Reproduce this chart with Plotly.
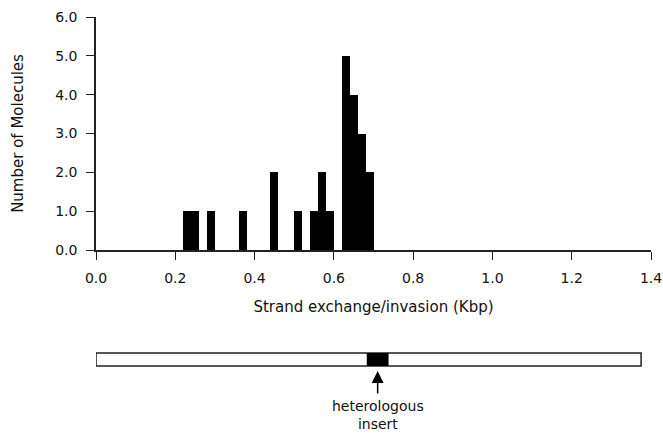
import plotly.graph_objects as go

# Histogram bins (Kbp, left edges of 0.02-Kbp bins) and counts
bin_left = [0.22, 0.24, 0.28, 0.36, 0.44, 0.50, 0.54, 0.56, 0.58, 0.62, 0.64, 0.66, 0.68]
counts = [1, 1, 1, 1, 2, 1, 1, 2, 1, 5, 4, 3, 2]
bin_width = 0.02

x_tick_vals = [0.0, 0.2, 0.4, 0.6, 0.8, 1.0, 1.2, 1.4]
x_tick_text = ["0.0", "0.2", "0.4", "0.6", "0.8", "1.0", "1.2", "1.4"]
y_tick_vals = [0, 1, 2, 3, 4, 5, 6]
y_tick_text = ["0.0", "1.0", "2.0", "3.0", "4.0", "5.0", "6.0"]

# Construct map drawn to the x-axis scale (Kbp)
construct_span = [0.0, 1.375]
insert_span = [0.683, 0.738]
insert_label = "heterologous<br>insert"

FONT = "DejaVu Sans"

centers = [b + bin_width / 2 for b in bin_left]

fig = go.Figure()
fig.add_trace(go.Bar(
    x=centers, y=counts, width=bin_width,
    marker=dict(color="black", line=dict(width=0)),
    showlegend=False, hoverinfo="x+y",
))

W, H = 663, 434
ml, mr, mt, mb = 96, 12, 17, 184
ph = H - mt - mb


def py(pix):
    # pixel row -> paper y
    return (H - mb - pix) / ph


fig.update_layout(
    width=W, height=H,
    margin=dict(l=ml, r=mr, t=mt, b=mb, autoexpand=False),
    paper_bgcolor="white", plot_bgcolor="white",
    bargap=0,
    font=dict(family=FONT, color="#111111"),
    xaxis=dict(
        range=[0, 1.4], tickmode="array", tickvals=x_tick_vals, ticktext=x_tick_text,
        ticks="outside", ticklen=8, tickwidth=1.2, tickcolor="#222",
        showline=True, linecolor="#222", linewidth=1.5, showgrid=False, zeroline=False,
        tickfont=dict(size=14), ticklabelstandoff=6, automargin=False,
        title=dict(text="Strand exchange/invasion (Kbp)", font=dict(size=15), standoff=17),
        fixedrange=True,
    ),
    yaxis=dict(
        range=[0, 6], tickmode="array", tickvals=y_tick_vals, ticktext=y_tick_text,
        ticks="outside", ticklen=8, tickwidth=1.2, tickcolor="#222",
        showline=True, linecolor="#222", linewidth=1.5, showgrid=False, zeroline=False,
        tickfont=dict(size=14), ticklabelstandoff=6, automargin=False,
        title=dict(text="Number of Molecules", font=dict(size=15), standoff=28),
        fixedrange=True,
    ),
)

# Construct bar (open rectangle) with the heterologous insert filled black
fig.add_shape(type="rect", xref="x", yref="paper",
              x0=construct_span[0], x1=construct_span[1], y0=py(366), y1=py(353),
              line=dict(color="#222", width=1.5), fillcolor="white", layer="above")
fig.add_shape(type="rect", xref="x", yref="paper",
              x0=insert_span[0], x1=insert_span[1], y0=py(366), y1=py(353),
              line=dict(color="black", width=0), fillcolor="black", layer="above")

insert_mid = (insert_span[0] + insert_span[1]) / 2
fig.add_annotation(xref="x", yref="paper", x=insert_mid, y=py(371),
                   ax=0, ay=24, showarrow=True, arrowhead=2, arrowsize=1.6,
                   arrowwidth=1.5, arrowcolor="black", text="")
fig.add_annotation(xref="x", yref="paper", x=insert_mid, y=py(396),
                   yanchor="top", showarrow=False, text=insert_label,
                   font=dict(size=14, family=FONT), align="center")

fig.write_html(
    "out.html",
    config={"displayModeBar": False},
    post_script="document.body.style.margin='0';"
                "document.documentElement.style.overflow='hidden';",
)
